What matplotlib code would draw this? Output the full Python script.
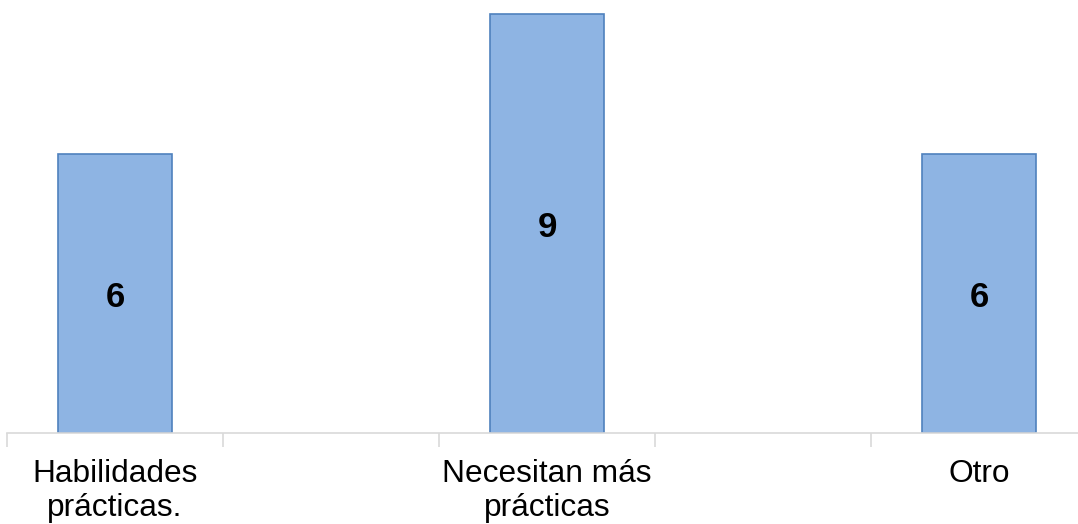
import matplotlib.pyplot as plt
from matplotlib.ticker import FixedLocator

plt.rcParams['font.family'] = ['Liberation Sans', 'DejaVu Sans']

categorias = ['Habilidades\nprácticas.', 'Necesitan más\nprácticas', 'Otro']
valores = [6, 9, 6]

fig = plt.figure(figsize=(10.78, 5.24), dpi=100)
ax = fig.add_axes([7 / 1078, 91 / 524, 1080 / 1078, 433 / 524])

x = list(range(len(categorias)))
bars = ax.bar(x, valores, width=0.266, color='#8EB4E3', edgecolor='#4F81BD', linewidth=1.2)

for b, v in zip(bars, valores):
    ax.text(b.get_x() + b.get_width() / 2, v / 2 - 0.08, str(v), ha='center', va='center',
            fontsize=25, fontweight='bold', color='black')

ax.set_xlim(-0.25, 2.25)
ax.set_ylim(0, 9.3)
ax.set_xticks(x)
ax.set_xticklabels(categorias, fontsize=22.8, linespacing=1.15)
ax.tick_params(axis='x', which='major', length=0, pad=19)
ax.xaxis.set_minor_locator(FixedLocator([-0.25, 0.25, 0.75, 1.25, 1.75, 2.25]))
ax.tick_params(axis='x', which='minor', length=10, color='#D9D9D9', width=1.2)
ax.set_yticks([])

for s in ['top', 'right', 'left']:
    ax.spines[s].set_visible(False)
ax.spines['bottom'].set_color('#D9D9D9')
ax.spines['bottom'].set_linewidth(1.2)

fig.savefig('out.png', dpi=100)
